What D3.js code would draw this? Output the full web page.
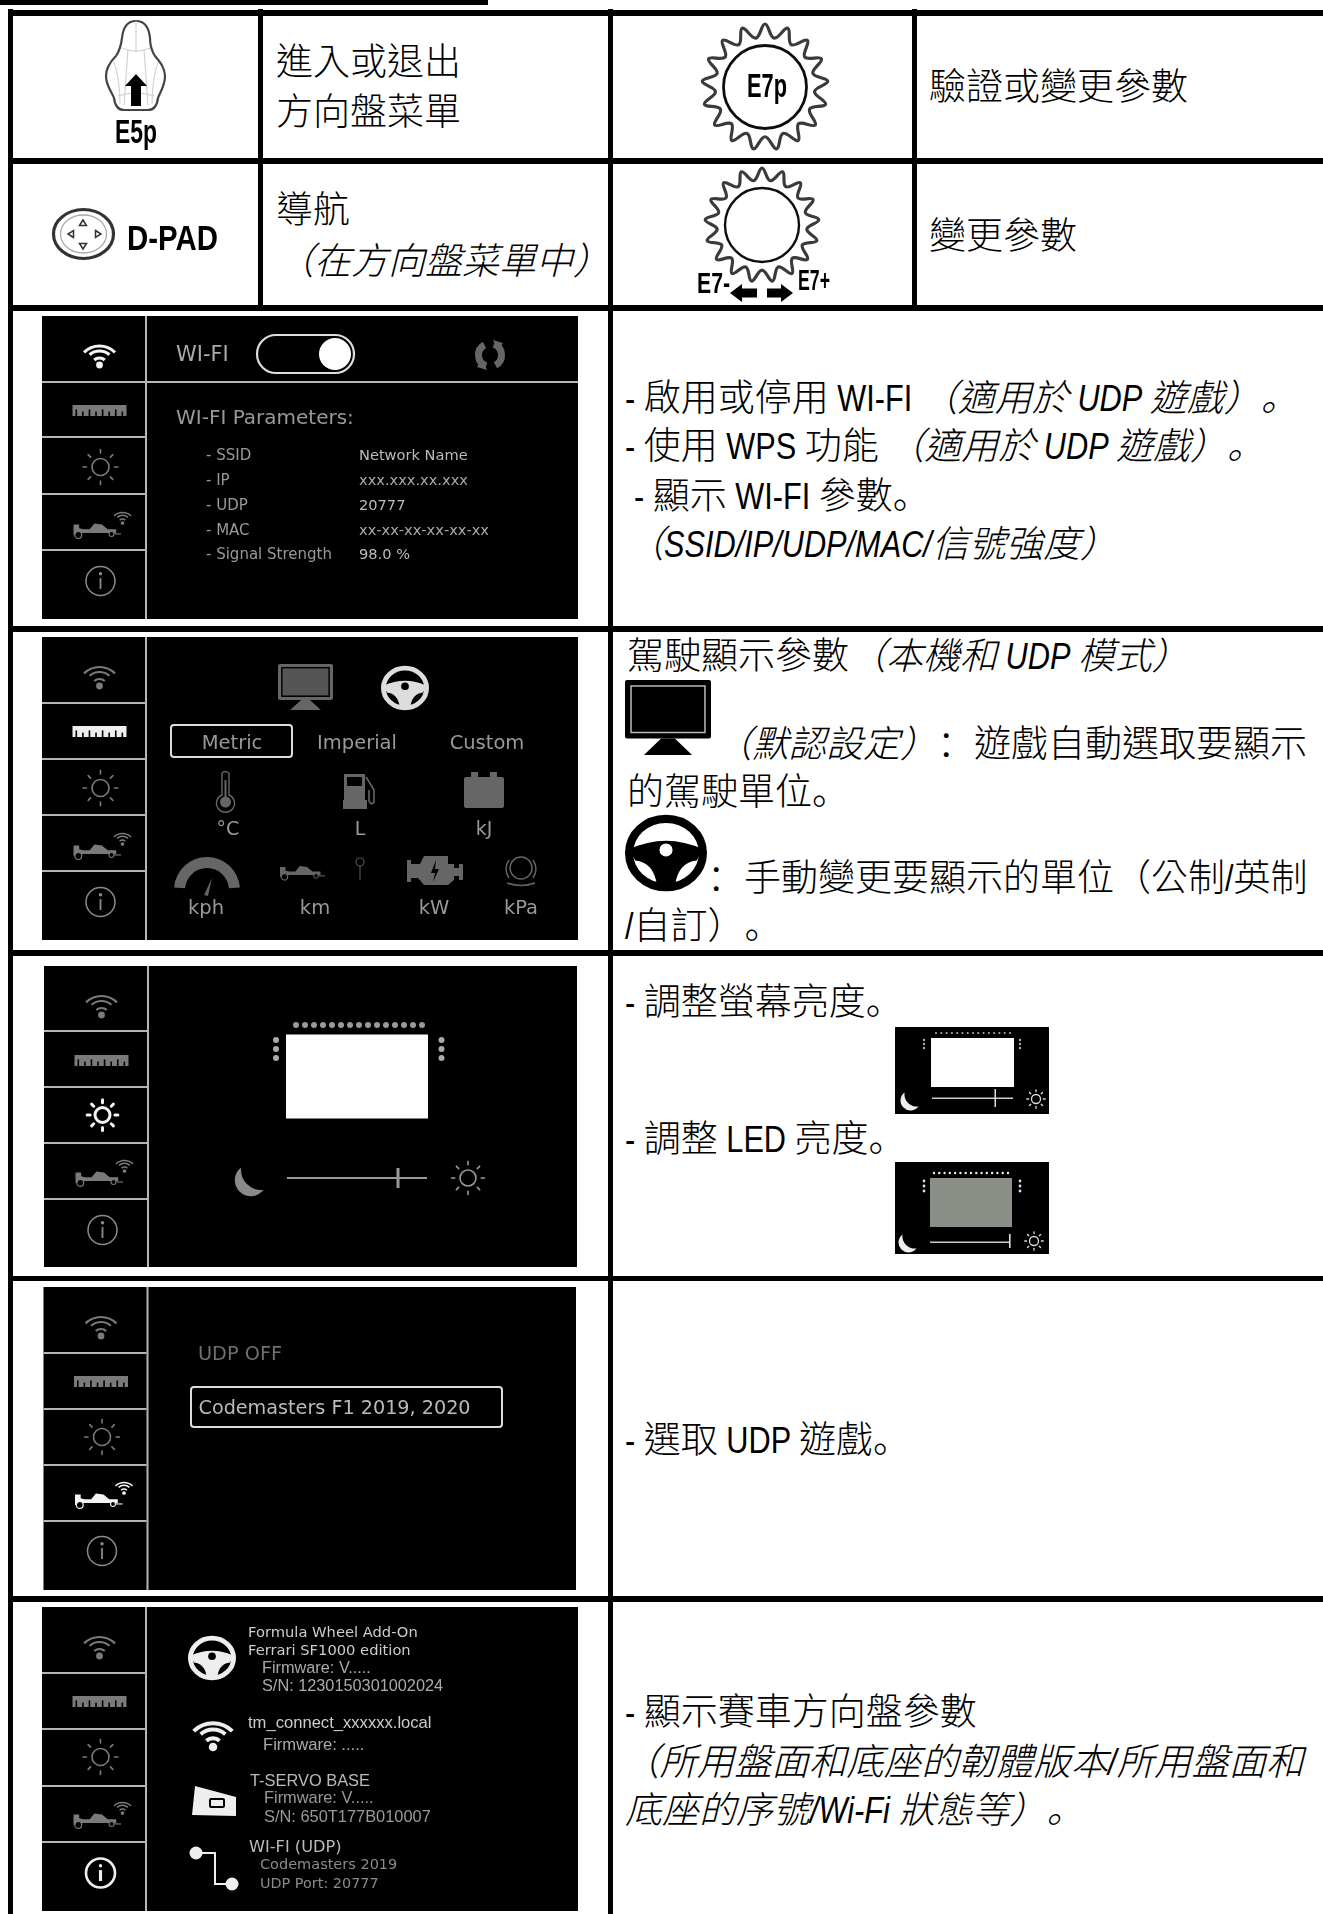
<!DOCTYPE html>
<html><head><meta charset="utf-8">
<style>html,body{margin:0;padding:0;background:#fff}svg{display:block}
.cjk{font-family:"Noto Sans CJK TC",sans-serif;font-weight:300;fill:#000;text-spacing-trim:space-all;white-space:pre}
.scr{font-family:"DejaVu Sans",sans-serif}
.lab{font-family:"Liberation Sans",sans-serif;font-weight:700;fill:#000}</style>
<script src="https://cdn.jsdelivr.net/npm/d3@7/dist/d3.min.js"></script></head><body>
<script>
// ---------- content ----------
const topCells = ["進入或退出","方向盤菜單","驗證或變更參數","導航","|（在方向盤菜單中）|","變更參數"];
const iconLabels = ["E5p","E7p","D-PAD","E7-","E7+"];
const wifiNotes = ["- 啟用或停用 WI-FI |（適用於 UDP 遊戲）。|","- 使用 WPS 功能 |（適用於 UDP 遊戲）。|","- 顯示 WI-FI 參數。","|（SSID/IP/UDP/MAC/信號強度）|"];
const unitNotes = ["駕駛顯示參數|（本機和 UDP 模式）|","|（默認設定）|：遊戲自動選取要顯示","的駕駛單位。","：手動變更要顯示的單位（公制/英制","/自訂）。"];
const brightNotes = ["- 調整螢幕亮度。","- 調整 LED 亮度。"];
const udpNotes = ["- 選取 UDP 遊戲。"];
const infoNotes = ["- 顯示賽車方向盤參數","|（所用盤面和底座的韌體版本/所用盤面和|","|底座的序號/Wi-Fi 狀態等）。|"];
const wifiKeys = ["- SSID","- IP","- UDP","- MAC","- Signal Strength"];
const wifiVals = ["Network Name","xxx.xxx.xx.xxx","20777","xx-xx-xx-xx-xx-xx","98.0 %"];
const unitModes = ["Metric","Imperial","Custom"];
const unitRow1 = ["°C","L","kJ"];
const unitRow2 = ["kph","km","kW","kPa"];
const infoWheel = ["Formula Wheel Add-On","Ferrari SF1000 edition","Firmware: V.....","S/N: 1230150301002024"];
const infoConnect = ["tm_connect_xxxxxx.local","Firmware: ....."];
const infoBase = ["T-SERVO BASE","Firmware: V.....","S/N: 650T177B010007"];
const infoUdp = ["WI-FI (UDP)","Codemasters 2019","UDP Port: 20777"];
const udpTexts = ["UDP OFF","Codemasters F1 2019, 2020"];
const wifiTitles = ["WI-FI","WI-FI Parameters:"];

// ---------- layout ----------
const W=1323,H=1914;
const svg=d3.select("body").append("svg").attr("width",W).attr("height",H).attr("viewBox",`0 0 ${W} ${H}`);
const defs=svg.append("defs");
defs.append("filter").attr("id","soft").append("feGaussianBlur").attr("stdDeviation",0.55);
defs.append("filter").attr("id","soft2").append("feGaussianBlur").attr("stdDeviation",0.4);

const ink=svg.append("g");
function rect(g,x,y,w,h,f){return g.append("rect").attr("x",x).attr("y",y).attr("width",w).attr("height",h).attr("fill",f||"#000");}
function write(g,x,y,str,size,cls,fill,extra){
  const t=g.append("text").attr("x",x).attr("y",y).attr("class",cls).attr("font-size",size).style("white-space","pre");
  if(fill)t.style("fill",fill).attr("fill",fill);
  if(extra)Object.entries(extra).forEach(([k,v])=>t.attr(k,v));
  t.text(str);
  return t;
}
// notes: Latin runs are horizontally condensed; CJK punctuation uses the lower-left punctuation forms
const LATIN=/^[A-Za-z0-9\-\/ .]+$/, narrow=0.83;
function note(x,y,str,size){
  const line=ink.append("g");
  let cur=x;
  str.split("|").forEach((part,i)=>{
    const runs=part.match(/[A-Za-z0-9\-\/ .]+|[（）。：]|[^A-Za-z0-9\-\/ .（）。：]+/g)||[];
    runs.forEach(r=>{
      const t=line.append("text").attr("class","cjk").attr("font-size",size).attr("font-style",i%2?"italic":"normal").text(r);
      if(LATIN.test(r)){
        t.style("font-family","'Liberation Sans',sans-serif").style("font-weight",400).attr("font-size",37);
        const len=t.node().getComputedTextLength();
        t.attr("transform",`translate(${cur},${y}) scale(${narrow},1)`);
        cur+=len*narrow;
      } else if(/[（）。：]/.test(r)){
        t.style("font-family","'Noto Sans CJK SC',sans-serif").attr("transform",`translate(${cur},${y})`);
        cur+=size;
      } else {
        t.attr("transform",`translate(${cur},${y})`);
        cur+=t.node().getComputedTextLength();
      }
    });
  });
}
// grid
rect(ink,0,0,488,5);
[[10,16],[158,164],[305,311],[626,632],[950,956],[1276,1281],[1596,1602]].forEach(([a,b])=>rect(ink,8,a,W-8,b-a));
rect(ink,8,9,5,H-9);
rect(ink,258,9,5,302);
rect(ink,608,9,5,H-9);
rect(ink,912,9,5,302);

// cell text
const sz=37;
note(276,75,topCells[0],sz);
note(276,125,topCells[1],sz);
note(929,100,topCells[2],sz);
note(276,223,topCells[3],sz);
note(277,274,topCells[4],sz);
note(929,249,topCells[5],sz);
[[625,411],[625,459],[634,509],[627,557]].forEach(([x,y],i)=>note(x,y,wifiNotes[i],sz));
[[627,669],[715,757],[627,805],[707,891],[625,939]].forEach(([x,y],i)=>note(x,y,unitNotes[i],sz));
[[625,1015],[625,1152]].forEach(([x,y],i)=>note(x,y,brightNotes[i],sz));
note(625,1453,udpNotes[0],sz);
[[625,1725],[622,1775],[625,1823]].forEach(([x,y],i)=>note(x,y,infoNotes[i],i===1?37.4:sz));

// ---------- glyph helpers ----------
function wifi(g,cx,dotY,s,c,sw){
  g.append("circle").attr("cx",cx).attr("cy",dotY).attr("r",3.4*s).attr("fill",c);
  [8,15,22].forEach(r=>{
    const R=r*s,a=(r>20?0.78:0.72);
    const ox=cx,oy=dotY+ (r>20?3:1)*s;
    g.append("path").attr("d",`M${ox-R*Math.sin(a)},${oy-R*Math.cos(a)}A${R},${R} 0 0 1 ${ox+R*Math.sin(a)},${oy-R*Math.cos(a)}`)
      .attr("fill","none").attr("stroke",c).attr("stroke-width",sw);
  });
}
function ruler(g,x,y,w,h,c){
  rect(g,x,y,w,h,c);
  for(let i=0;i<8;i++){const th=h*(i%2?0.4:0.6);rect(g,x+3+i*(w-6)/7.3,y+h-th,1.6,th,"#000");}
}
function sun(g,cx,cy,r,c,sw){
  g.append("circle").attr("cx",cx).attr("cy",cy).attr("r",r).attr("fill","none").attr("stroke",c).attr("stroke-width",sw);
  d3.range(8).forEach(i=>{const a=i*Math.PI/4;
    g.append("line").attr("x1",cx+Math.cos(a)*r*1.65).attr("y1",cy+Math.sin(a)*r*1.65)
     .attr("x2",cx+Math.cos(a)*r*2.05).attr("y2",cy+Math.sin(a)*r*2.05)
     .attr("stroke",c).attr("stroke-width",sw).attr("stroke-linecap","round");});
}
function car(g,x,y,s,c){
  const gg=g.append("g").attr("transform",`translate(${x},${y}) scale(${s})`);
  gg.append("path").attr("d","M0,-9H6V-5L10,-4L17,-4L22,-10L30,-9L36,-4H45V0H8V2H0Z").attr("fill",c);
  gg.append("circle").attr("cx",5).attr("cy",2).attr("r",3.6).attr("fill","#000").attr("stroke",c).attr("stroke-width",1.3);
  gg.append("circle").attr("cx",40).attr("cy",1).attr("r",2.6).attr("fill","#000").attr("stroke",c).attr("stroke-width",1.1);
  gg.append("path").attr("d","M43,1H50").attr("stroke",c).attr("stroke-width",1.2);
}
function info(g,cx,cy,r,c,sw){
  g.append("circle").attr("cx",cx).attr("cy",cy).attr("r",r).attr("fill","none").attr("stroke",c).attr("stroke-width",sw);
  g.append("circle").attr("cx",cx).attr("cy",cy-r*.5).attr("r",1.7).attr("fill",c);
  g.append("line").attr("x1",cx).attr("x2",cx).attr("y1",cy-r*.2).attr("y2",cy+r*.55).attr("stroke",c).attr("stroke-width",sw*1.2);
}
function wheel(g,cx,cy,rx,ry,c,bg){
  g.append("ellipse").attr("cx",cx).attr("cy",cy).attr("rx",rx-rx*.1).attr("ry",ry-ry*.1).attr("fill",bg).attr("stroke",c).attr("stroke-width",rx*.2);
  g.append("path").attr("d",`M${cx-rx*.9},${cy-ry*.1}Q${cx},${cy-ry*.55} ${cx+rx*.9},${cy-ry*.1}L${cx+rx*.75},${cy+ry*.2}Q${cx+rx*.3},${cy+ry*.25} ${cx+rx*.22},${cy+ry*.85}H${cx-rx*.22}Q${cx-rx*.3},${cy+ry*.25} ${cx-rx*.75},${cy+ry*.2}Z`).attr("fill",c);
  g.append("circle").attr("cx",cx).attr("cy",cy-ry*.08).attr("r",rx*.16).attr("fill",bg);
}
function monitor(g,x,y,w,h,c,fill,edge){
  rect(g,x,y,w,h*.78,c).attr("rx",2);
  rect(g,x+w*.07,y+h*.08,w*.86,h*.62,fill).attr("stroke",edge).attr("stroke-width",1.5);
  g.append("path").attr("d",`M${x+w*.42},${y+h*.78}H${x+w*.58}L${x+w*.78},${y+h}H${x+w*.22}Z`).attr("fill",c);
}
function moon(g,cx,cy,r,c){
  g.append("path").attr("d",`M${cx-r*.55},${cy-r*.85}A${r},${r} 0 1 0 ${cx+r*.85},${cy+r*.55}A${r*1.25},${r*1.25} 0 0 1 ${cx-r*.55},${cy-r*.85}Z`).attr("fill",c);
}
function dotsRow(g,x0,x1,y,n,r,c){d3.range(n).forEach(i=>g.append("circle").attr("cx",x0+(x1-x0)*i/(n-1)).attr("cy",y).attr("r",r).attr("fill",c));}
function dotsCol(g,x,y0,dy,r,c){[0,1,2].forEach(i=>g.append("circle").attr("cx",x).attr("cy",y0+i*dy).attr("r",r).attr("fill",c));}

// ---------- wheel-control icons ----------
const icons=ink.append("g").attr("filter","url(#soft)");
function lab(x,y,s,size,w){
  const t=write(icons,0,0,s,size,"lab");
  const len=t.node().getComputedTextLength();
  t.attr("transform",`translate(${x},${y}) scale(${w/len},1)`);
  return t;
}
// E5p paddle
icons.append("path").attr("d","M136,21C127,21 123,28 122,38C121,46 120,50 116,56C110,62 106,68 106,76C106,86 112,92 114,98C115,106 118,110 124,110H148C154,110 157,106 158,98C160,92 165,86 165,76C165,68 160,62 155,56C151,50 150,46 150,38C149,28 145,21 136,21Z").attr("fill","#fff").attr("stroke","#444").attr("stroke-width",2.2);
icons.append("path").attr("d","M136,21V52M122,48Q136,54 150,48M118,96Q136,90 154,96M114,62Q120,80 120,104M158,62Q152,80 152,104M128,50L124,105M144,50L148,105").attr("fill","none").attr("stroke","#ccc").attr("stroke-width",1);
icons.append("path").attr("d","M125,86L136,74L147,86H141V106H131V86Z").attr("fill","#000");
lab(115,143,iconLabels[0],33,42);
// gears
function gear(cx,cy,r,ir,sw,teeth,k){
  const pts=[];d3.range(teeth*2).forEach(i=>{const a=i*Math.PI/teeth,q=i%2?k:1;pts.push([cx+Math.sin(a)*r*q,cy-Math.cos(a)*r*q]);});
  icons.append("path").attr("d",d3.line().curve(d3.curveCardinalClosed.tension(-.2))(pts)).attr("fill","#fff").attr("stroke","#3a3a3a").attr("stroke-width",3.2);
  icons.append("circle").attr("cx",cx).attr("cy",cy).attr("r",ir).attr("fill","#fff").attr("stroke","#111").attr("stroke-width",sw);
}
gear(765,87,63,41.5,2.8,17,.79);
lab(747,97,iconLabels[1],33,40);
gear(762,225,57,37,2.4,17,.79);
lab(697,293,iconLabels[3],30,33);
lab(798,290,iconLabels[4],30,32);
icons.append("path").attr("d","M730,293L742,284V288.5H757V297.5H742V302Z").attr("fill","#000");
icons.append("path").attr("d","M793,293L781,284V288.5H767V297.5H781V302Z").attr("fill","#000");
// D-PAD
icons.append("ellipse").attr("cx",83.5).attr("cy",234).attr("rx",30).attr("ry",24.5).attr("fill","#fff").attr("stroke","#333").attr("stroke-width",3.2);
icons.append("ellipse").attr("cx",83.5).attr("cy",234).attr("rx",23).attr("ry",19).attr("fill","#fff").attr("stroke","#aaa").attr("stroke-width",1.3);
[[83,223,0],[83,246,180],[71,234,270],[98,234,90]].forEach(([x,y,a])=>icons.append("path").attr("d","M-3.5,2.5L0,-3L3.5,2.5Z").attr("transform",`translate(${x},${y}) rotate(${a})`).attr("fill","#fff").attr("stroke","#333").attr("stroke-width",1.5));
lab(127,250,iconLabels[2],35,91);

// ---------- display screens ----------
function sidebar(g,x,active,slots){
  const dim="#7a7a7a",hi="#f4f4f4",cx=x+57.5;
  const c=i=>i===active?hi:dim;
  wifi(g,cx,slots[0],1,c(0),active===0?3.2:2.2);
  ruler(g,cx-27,slots[1],54,11,active===1?"#eee":"#7a7a7a");
  sun(g,cx+1,slots[2],active===2?7.5:8.5,c(2),active===2?3:1.6);
  car(g,cx-26,slots[3],.95,c(3));
  wifi(g,cx+23,slots[3]-10,.55,c(3),1.5);
  info(g,cx+1,slots[4],14.5,active===4?"#eee":"#8a8a8a",active===4?2.6:1.5);
}
function frame(x,y,w,h,seps,full){
  const g=svg.append("g").attr("filter","url(#soft2)");
  rect(g,x,y,w,h);
  const L="#b5b5b5";
  rect(g,x+103,y,2,h,L);
  seps.forEach((s,i)=>rect(g,x,s,(i===0&&full)?w:103,2,L));
  return g;
}
const T="scr";
// screen 1: wi-fi
{
  const s=frame(42,316,536,303,[381,436,493,549],true);
  sidebar(s,42,0,[365,405,467,533,581]);
  write(s,176,361,wifiTitles[0],21,T,"#aaa");
  s.append("rect").attr("x",257).attr("y",335).attr("width",97).attr("height",38).attr("rx",19).attr("fill","#000").attr("stroke","#ddd").attr("stroke-width",2.2);
  s.append("circle").attr("cx",335).attr("cy",354).attr("r",16).attr("fill","#fff");
  const arc=d3.arc().innerRadius(8).outerRadius(15);
  [[-2.8,-0.5],[0.35,2.65]].forEach(([a,b])=>s.append("path").attr("d",arc({startAngle:a,endAngle:b})).attr("transform","translate(490,355)").attr("fill","#666"));
  s.append("path").attr("d","M493,340L503,343L498,351Z M487,370L477,367L482,359Z").attr("fill","#666");
  write(s,176,424,wifiTitles[1],20,T,"#999");
  const ys=[460,485,510,534.5,559];
  ys.forEach((y,i)=>{write(s,206,y,wifiKeys[i],15,T,"#999");write(s,359,y,wifiVals[i],14.6,T,i===3||i===1?"#aaa":"#bbb");});
}
// screen 2: units
{
  const s=frame(42,637,536,303,[702,758,814,870],false);
  sidebar(s,42,1,[686,726,788,854,902]);
  monitor(s,278,664,55,46,"#666","#555","#000");
  wheel(s,405,688,24,22,"#ddd","#000");
  s.append("rect").attr("x",171).attr("y",725).attr("width",121).attr("height",32).attr("rx",3).attr("fill","#000").attr("stroke","#ddd").attr("stroke-width",2);
  [232,357,487].forEach((x,i)=>write(s,x,749,unitModes[i],19.5,T,"#999",{"text-anchor":"middle"}));
  // thermometer
  s.append("path").attr("d","M222,773Q225,770 229,773V795A9,9 0 1 1 222,795Z").attr("fill","none").attr("stroke","#666").attr("stroke-width",1.4);
  s.append("circle").attr("cx",225.5).attr("cy",802).attr("r",5.5).attr("fill","#666");
  rect(s,224.5,780,2,20,"#666");
  // pump
  s.append("path").attr("d","M344,774H365V800H367V809H343V800H344Z").attr("fill","#666");
  s.append("path").attr("d","M366,777L374,790V802Q371,806 369,801V790").attr("fill","none").attr("stroke","#666").attr("stroke-width",1.6);
  rect(s,347,777,15,9,"#000");
  // battery
  s.append("rect").attr("x",464).attr("y",777).attr("width",40).attr("height",31).attr("rx",2).attr("fill","#666");
  rect(s,471,772,7,5,"#666");rect(s,490,772,7,5,"#666");
  [228,360,484].forEach((x,i)=>write(s,x,835,unitRow1[i],19,T,"#999",{"text-anchor":"middle"}));
  // gauge
  s.append("path").attr("d",d3.arc().innerRadius(22).outerRadius(33).startAngle(-Math.PI/2.1).endAngle(Math.PI/2.1)()).attr("transform","translate(207,890)").attr("fill","#666");
  s.append("path").attr("d","M204,895L212,878L208,896Z").attr("fill","#666");
  car(s,280,875,.9,"#666");
  s.append("circle").attr("cx",360).attr("cy",862).attr("r",4).attr("fill","none").attr("stroke","#555").attr("stroke-width",1.2);
  s.append("line").attr("x1",360).attr("x2",360).attr("y1",866).attr("y2",880).attr("stroke","#555").attr("stroke-width",1.2);
  // engine
  s.append("path").attr("d","M407,860H411V864H420L424,856H448V864H454V868H459V864H463V880H459V876H454V880L448,885H424L418,878H411V882H407Z").attr("fill","#666");
  s.append("path").attr("d","M436,860L431,873H435L433,882L439,869H435Z").attr("fill","#000");
  // brake
  s.append("circle").attr("cx",521).attr("cy",868).attr("r",11).attr("fill","none").attr("stroke","#666").attr("stroke-width",1.4);
  s.append("path").attr("d","M509,860Q503,869 509,878M533,860Q539,869 533,878").attr("fill","none").attr("stroke","#666").attr("stroke-width",1.4);
  s.append("path").attr("d","M507,883Q521,888 535,883").attr("fill","none").attr("stroke","#666").attr("stroke-width",1.4);
  [206,315,434,521].forEach((x,i)=>write(s,x,914,unitRow2[i],19.5,T,"#999",{"text-anchor":"middle"}));
}
// screen 3: brightness
{
  const s=frame(44,966,533,301,[1030,1086,1142,1198],false);
  sidebar(s,44,2,[1015,1055,1115,1181,1230]);
  rect(s,286,1034.5,142,84,"#fff");
  dotsRow(s,296,422,1025,15,3,"#999");
  dotsCol(s,276,1040,9,3,"#aaa");dotsCol(s,441.5,1040,9,3,"#aaa");
  rect(s,287,1177,140,2,"#999");rect(s,396.5,1168,3,20,"#999");
  moon(s,250,1181,16,"#8a8a8a");
  sun(s,468,1178,8,"#999",1.6);
}
// screen 4: udp
{
  const s=frame(43.5,1287,532.5,303,[1352,1408,1464,1520],false);
  sidebar(s,43.5,3,[1336,1376,1437,1503,1551]);
  write(s,198,1360,udpTexts[0],19.3,T,"#6f6f6f");
  s.append("rect").attr("x",191).attr("y",1387).attr("width",311).attr("height",40).attr("rx",3).attr("fill","#000").attr("stroke","#ddd").attr("stroke-width",2);
  write(s,198.5,1414,udpTexts[1],19.2,T,"#bbb");
}
// screen 5: info
{
  const s=frame(42,1607,536,304,[1672,1728,1785,1841],false);
  sidebar(s,42,4,[1656,1696,1757,1823,1873]);
  const F="Liberation Sans";
  wheel(s,212,1658,24,22,"#eee","#000");
  wifi(s,213,1747,1.25,"#eee",4);
  s.append("path").attr("d","M195,1786L236,1797V1816L192,1815Z").attr("fill","#eee");
  s.append("rect").attr("x",210).attr("y",1799).attr("width",14).attr("height",8).attr("rx",1).attr("fill","#eee").attr("stroke","#000").attr("stroke-width",2);
  s.append("path").attr("d","M196,1853H215V1884H232").attr("fill","none").attr("stroke","#eee").attr("stroke-width",2);
  [[196,1853],[232,1884]].forEach(([x,y])=>s.append("circle").attr("cx",x).attr("cy",y).attr("r",6.5).attr("fill","#eee"));
  [[248,1637,"#ccc"],[248,1655,"#ccc"],[262,1673,"#aaa"],[262,1691,"#aaa"]].forEach(([x,y,c],i)=>write(s,x,y,infoWheel[i],i<2?14.7:16.3,T,c).style("font-family",i>1?F:null));
  [[248,1728,"#ccc"],[263,1750,"#aaa"]].forEach(([x,y,c],i)=>write(s,x,y,infoConnect[i],16.6,T,c).style("font-family",F));
  [[250,1786,"#bbb"],[264,1803,"#999"],[264,1822,"#999"]].forEach(([x,y,c],i)=>write(s,x,y,infoBase[i],16.4,T,c).style("font-family",F));
  [[249,1852,"#bbb",16.2],[260,1869,"#8a8a8a",14.5],[260,1888,"#8a8a8a",14.4]].forEach(([x,y,c,f],i)=>write(s,x,y,infoUdp[i],f,T,c));
}
// legend glyphs inside the notes column
monitor(ink,625,680,86,75,"#000","#000","#bbb");
wheel(ink,666,853,41,38,"#000","#fff");
// mini brightness screens
{
  const m=svg.append("g").attr("filter","url(#soft2)");
  rect(m,895,1027,154,87);
  rect(m,931,1038,83,49,"#fff");
  dotsRow(m,936,1010,1033,15,1.1,"#aaa");
  dotsCol(m,924,1040,4,1.2,"#aaa");dotsCol(m,1020,1040,4,1.2,"#aaa");
  rect(m,932,1097.5,81,1.5,"#ccc");rect(m,994.5,1089,1.5,18,"#ddd");
  moon(m,910,1101,10,"#eee");sun(m,1036,1099,4.5,"#ddd",1.3);
  rect(m,895,1162,154,92);
  rect(m,930,1178,82,49,"#8a8f88");
  dotsRow(m,934,1008,1173,15,1.2,"#eee");
  dotsCol(m,924,1181,5,1.4,"#ddd");dotsCol(m,1020,1181,5,1.4,"#ddd");
  rect(m,930,1241.5,80,1.5,"#ccc");rect(m,1009,1234,1.6,14,"#ddd");
  moon(m,908,1243,10,"#eee");sun(m,1034,1241,4.5,"#ddd",1.3);
}
</script></body></html>
